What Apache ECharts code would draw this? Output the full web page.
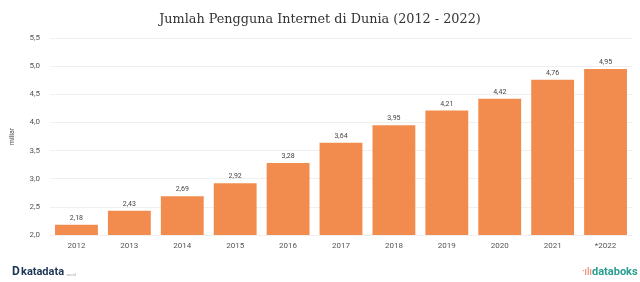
<!DOCTYPE html>
<html>
<head>
<meta charset="utf-8">
<script src="https://cdn.jsdelivr.net/npm/echarts@6/dist/echarts.min.js"></script>
<style>
  html, body { margin: 0; padding: 0; background: #fff; }
  #chart { width: 640px; height: 282px; }
</style>
</head>
<body>
<div id="chart"></div>
<script>
var years = ['2012', '2013', '2014', '2015', '2016', '2017', '2018', '2019', '2020', '2021', '*2022'];
var users = [2.18, 2.43, 2.69, 2.92, 3.28, 3.64, 3.95, 4.21, 4.42, 4.76, 4.95];

function koma(v, d) {
    return v.toFixed(d).replace('.', ',');
}

var chart = echarts.init(document.getElementById('chart'));

var option = {
    backgroundColor: '#fff',
    animation: false,
    title: {
        text: 'Jumlah Pengguna Internet di Dunia (2012 - 2022)',
        left: 'center',
        top: 8,
        textStyle: {
            fontFamily: 'DejaVu Serif',
            fontSize: 12.8,
            fontWeight: 'normal',
            color: '#333'
        }
    },
    grid: { left: 50, right: 8, top: 38, bottom: 47 },
    xAxis: {
        type: 'category',
        data: years,
        axisLine: { show: false },
        axisTick: { show: false },
        axisLabel: { color: '#555', fontSize: 8, margin: 7, fontFamily: 'Roboto' }
    },
    yAxis: {
        type: 'value',
        min: 2,
        max: 5.5,
        interval: 0.5,
        name: 'miliar',
        nameLocation: 'middle',
        nameGap: 34,
        nameTextStyle: { fontSize: 7, color: '#555', fontFamily: 'Roboto' },
        axisLabel: {
            color: '#555', fontSize: 8, margin: 10, fontFamily: 'Roboto',
            formatter: function (v) { return koma(v, 1); }
        },
        splitLine: { lineStyle: { color: '#f0f0f0' } }
    },
    series: [{
        type: 'bar',
        data: users,
        barCategoryGap: '19%',
        itemStyle: { color: '#F28C4E' },
        label: {
            show: true,
            position: 'top',
            distance: 3,
            fontSize: 7,
            color: '#444',
            fontFamily: 'Roboto',
            formatter: function (p) { return koma(p.value, 2); }
        }
    }],
    graphic: [
        {
            type: 'text', left: 12, top: 266,
            style: { text: 'D', fontSize: 12, fontWeight: 'bold', fill: '#1d3557', fontFamily: 'Roboto' }
        },
        {
            type: 'text', left: 21, top: 267,
            style: { text: 'katadata', fontSize: 11, fontWeight: 'bold', fill: '#1d3557', fontFamily: 'Roboto' }
        },
        {
            type: 'text', left: 66, top: 273,
            style: { text: '.co.id', fontSize: 4, fill: '#999', fontFamily: 'Roboto' }
        },
        {
            type: 'text', left: 592, top: 267,
            style: { text: 'databoks', fontSize: 11, fontWeight: 'bold', fill: '#2a9d8f', fontFamily: 'Roboto' }
        },
        {
            type: 'text', left: 582, top: 267,
            style: { text: '·ılı', fontSize: 10, fill: '#e76f51', fontFamily: 'Roboto' }
        }
    ]
};

chart.setOption(option);
</script>
</body>
</html>
